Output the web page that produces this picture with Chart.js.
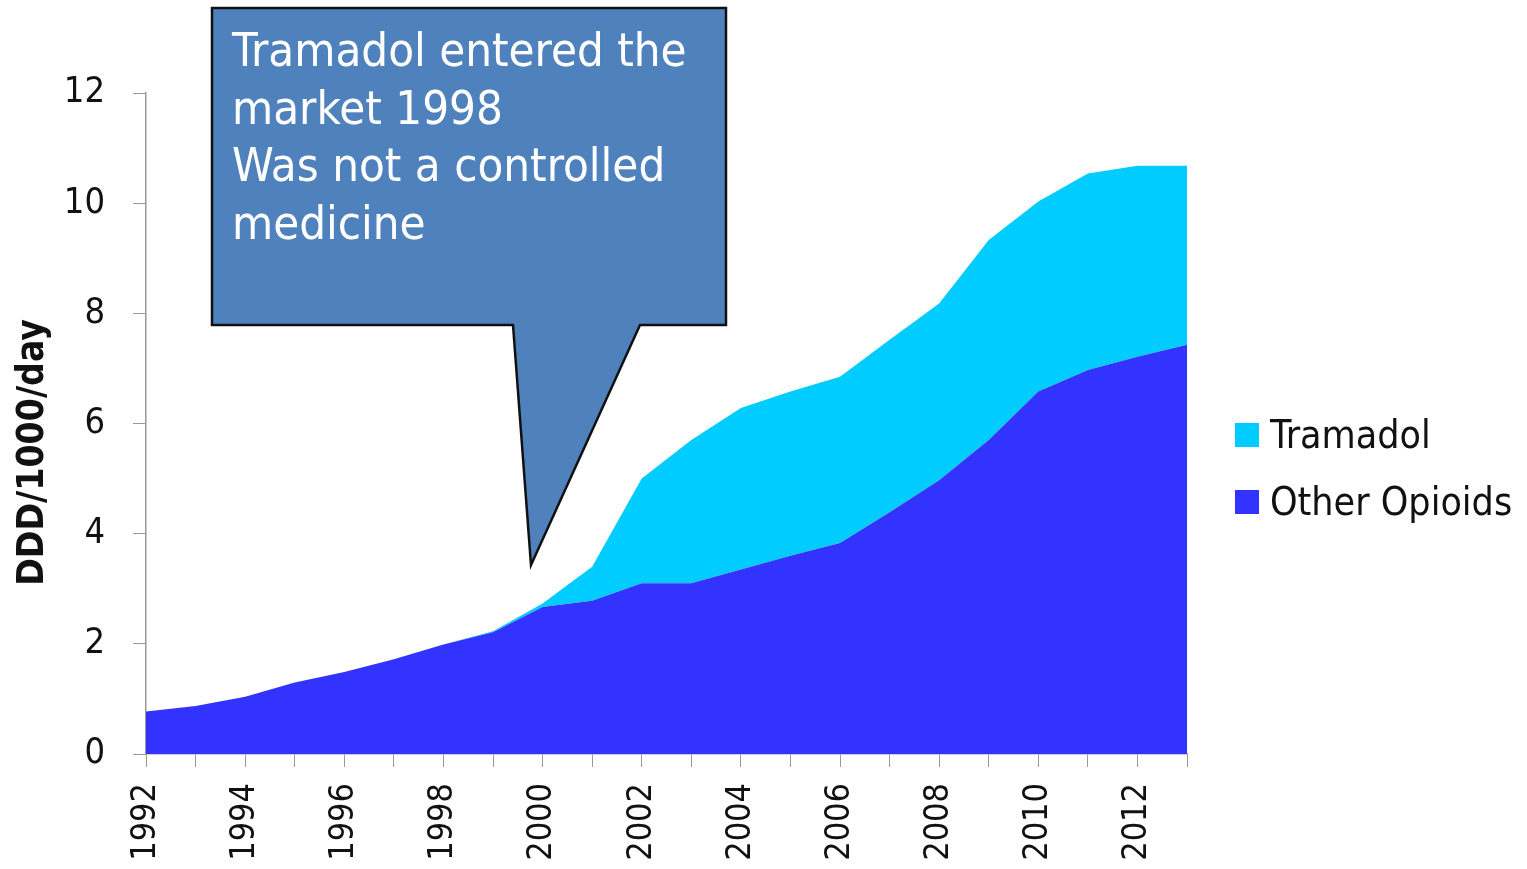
<!DOCTYPE html>
<html>
<head>
<meta charset="utf-8">
<script src="https://cdn.jsdelivr.net/npm/chart.js@4/dist/chart.umd.min.js"></script>
<style>
  html, body { margin: 0; padding: 0; background: #fff; }
  #wrap { width: 1527px; height: 869px; }
</style>
</head>
<body>
<div id="wrap"><canvas id="opioidChart" width="1527" height="869"></canvas></div>
<script>
const years = ['1992','1993','1994','1995','1996','1997','1998','1999','2000','2001','2002',
  '2003','2004','2005','2006','2007','2008','2009','2010','2011','2012','2013']
const otherOpioids = [0.77, 0.87, 1.04, 1.30, 1.49, 1.72, 1.99, 2.21, 2.67, 2.78, 3.10,
  3.10, 3.35, 3.60, 3.83, 4.39, 4.97, 5.70, 6.58, 6.97, 7.21, 7.43]
const tramadol = [0, 0, 0, 0, 0, 0, 0, 0.02, 0.06, 0.62, 1.90,
  2.60, 2.93, 2.98, 3.02, 3.13, 3.21, 3.63, 3.45, 3.57, 3.47, 3.25]
const yTicks = [0, 2, 4, 6, 8, 10, 12]
const noteLines = ['Tramadol entered the', 'market 1998', 'Was not a controlled', 'medicine']

const FONT = 'Tahoma, "DejaVu Sans Condensed", "DejaVu Sans", sans-serif'
Chart.defaults.font.family = FONT
Chart.defaults.color = '#111'

// callout box + legend on the right (legend built from the datasets)
const extras = {
    id: 'extras',
    afterDraw(chart) {
        const ctx = chart.ctx
        ctx.save()
        ctx.beginPath()
        ctx.moveTo(212, 8)
        ctx.lineTo(726, 8)
        ctx.lineTo(726, 325)
        ctx.lineTo(640, 325)
        ctx.lineTo(531, 565)
        ctx.lineTo(513, 325)
        ctx.lineTo(212, 325)
        ctx.closePath()
        ctx.fillStyle = '#4f81bd'
        ctx.fill()
        ctx.lineWidth = 2.5
        ctx.strokeStyle = '#111'
        ctx.stroke()
        ctx.fillStyle = '#fff'
        ctx.font = '47px ' + FONT
        ctx.textBaseline = 'alphabetic'
        noteLines.forEach((t, i) => ctx.fillText(t, 232, 66 + i * 57.5))

        const items = chart.data.datasets.slice().reverse()
        ctx.font = '39px ' + FONT
        items.forEach((ds, i) => {
            const base = 448 + i * 67
            ctx.fillStyle = ds.backgroundColor
            ctx.fillRect(1235, base - 25, 24, 24)
            ctx.fillStyle = '#111'
            ctx.fillText(ds.label, 1270, base)
        })
        ctx.restore()
    }
}

const data = {
    labels: years,
    datasets: [
        {
            label: 'Other Opioids',
            data: otherOpioids,
            backgroundColor: 'rgb(51, 51, 255)',
            borderWidth: 0,
            pointRadius: 0,
            fill: 'origin',
            tension: 0
        },
        {
            label: 'Tramadol',
            data: tramadol,
            backgroundColor: 'rgb(0, 204, 255)',
            borderWidth: 0,
            pointRadius: 0,
            fill: '-1',
            tension: 0
        }
    ]
}

const config = {
    type: 'line',
    data: data,
    options: {
        responsive: false,
        animation: false,
        layout: { padding: { top: 93, left: 0, right: 340, bottom: 0 } },
        plugins: {
            tooltip: { enabled: false },
            legend: { display: false }
        },
        scales: {
            x: {
                offset: false,
                afterFit: axis => { axis.height = 115 },
                grid: { drawOnChartArea: false, drawTicks: true, tickLength: 13, color: '#999', offset: false },
                border: { color: '#999', width: 1.5 },
                ticks: {
                    autoSkip: false,
                    maxRotation: 90,
                    minRotation: 90,
                    font: { size: 34 },
                    color: '#111',
                    padding: 16,
                    callback: (v, i) => (i % 2 === 0 ? years[i] : '')
                }
            },
            y: {
                stacked: true,
                min: 0,
                max: 12,
                afterFit: axis => { axis.width = 146 },
                afterBuildTicks: axis => { axis.ticks = yTicks.map(v => ({ value: v })) },
                grid: { drawOnChartArea: false, drawTicks: true, tickLength: 13, color: '#999' },
                border: { color: '#999', width: 1.5 },
                ticks: { font: { size: 36 }, color: '#111', padding: 28 },
                title: {
                    display: true,
                    // trailing spaces nudge the rotated title down a little
                    text: 'DDD/1000/day\u00a0\u00a0\u00a0\u00a0\u00a0',
                    font: { size: 37, weight: 'bold' },
                    color: '#111',
                    padding: { top: 11, bottom: 0 }
                }
            }
        }
    },
    plugins: [extras]
}

new Chart(document.getElementById('opioidChart').getContext('2d'), config)
</script>
</body>
</html>
